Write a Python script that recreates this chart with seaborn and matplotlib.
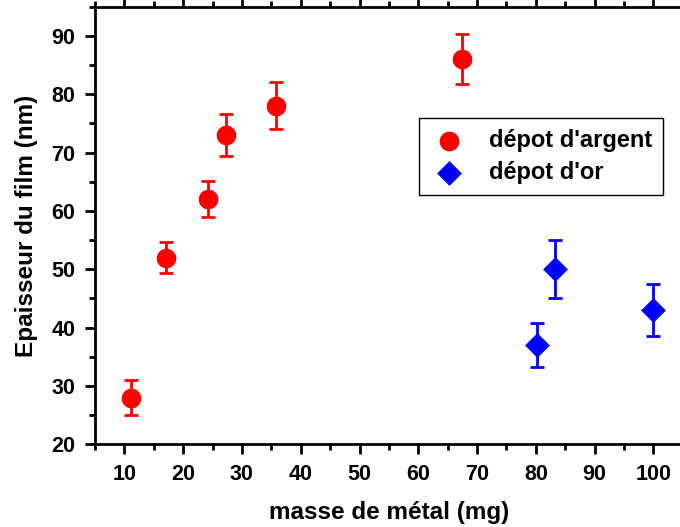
import matplotlib
matplotlib.use("Agg")
import matplotlib.pyplot as plt
from matplotlib.ticker import MultipleLocator
import seaborn as sns
import pandas as pd

# dépot d'argent
ag_masse = [11.2, 17.0, 24.3, 27.3, 35.8, 67.4]
ag_epaisseur = [28, 52, 62, 73, 78, 86]
ag_err = [3.0, 2.7, 3.1, 3.6, 4.0, 4.3]

# dépot d'or
au_masse = [80.2, 83.3, 100.0]
au_epaisseur = [37, 50, 43]
au_err = [3.8, 5.0, 4.4]

sns.set_style("ticks", {'axes.edgecolor': 'black', 'text.color': 'black',
                        'xtick.color': 'black', 'ytick.color': 'black',
                        'axes.labelcolor': 'black'})
plt.rcParams['font.family'] = ['Liberation Sans', 'DejaVu Sans']
plt.rcParams['font.weight'] = 'bold'

ag = pd.DataFrame({'masse': ag_masse, 'ep': ag_epaisseur})
au = pd.DataFrame({'masse': au_masse, 'ep': au_epaisseur})

fig = plt.figure(figsize=(6.8, 5.27), dpi=100)
ax = fig.add_axes([0.1397, 0.157, 0.8644, 0.8304])

ax.errorbar(ag_masse, ag_epaisseur, yerr=ag_err, fmt='none', ecolor='red',
            elinewidth=2, capsize=5, capthick=2, zorder=2)
ax.errorbar(au_masse, au_epaisseur, yerr=au_err, fmt='none', ecolor='blue',
            elinewidth=2, capsize=5, capthick=2, zorder=2)
sns.scatterplot(data=ag, x='masse', y='ep', ax=ax, color='red', marker='o',
                s=200, edgecolor='red', linewidth=0, label="dépot d'argent", zorder=3)
sns.scatterplot(data=au, x='masse', y='ep', ax=ax, color='blue', marker='D',
                s=160, edgecolor='blue', linewidth=0, label="dépot d'or", zorder=3)

ax.set_xlim(5, 105)
ax.set_ylim(20, 95)
ax.xaxis.set_minor_locator(MultipleLocator(5))
ax.yaxis.set_minor_locator(MultipleLocator(5))
ax.set_xticks(range(10, 101, 10))
ax.set_yticks(range(20, 91, 10))

for sp in ax.spines.values():
    sp.set_linewidth(2)
    sp.set_visible(True)
    sp.set_color('black')
ax.tick_params(which='major', direction='out', length=7, width=2, labelsize=15.5,
               top=True, right=True, pad=7, colors='black')
ax.tick_params(which='minor', direction='out', length=4, width=2, top=True, right=True,
               colors='black')
for lab in ax.get_xticklabels() + ax.get_yticklabels():
    lab.set_fontweight('bold')

ax.set_xlabel("masse de métal (mg)", fontsize=17.5, fontweight='bold', labelpad=12)
ax.set_ylabel("Epaisseur du film (nm)", fontsize=17.5, fontweight='bold', labelpad=10)

leg = ax.legend(loc='upper left', bbox_to_anchor=(0.552, 0.745), borderaxespad=0,
                fancybox=False, edgecolor='black', fontsize=17, handletextpad=0.9,
                borderpad=0.45, labelspacing=0.4, framealpha=1, handlelength=1.6)
leg.get_frame().set_linewidth(1)
for t in leg.get_texts():
    t.set_fontweight('bold')

fig.savefig('out.png', dpi=100)
